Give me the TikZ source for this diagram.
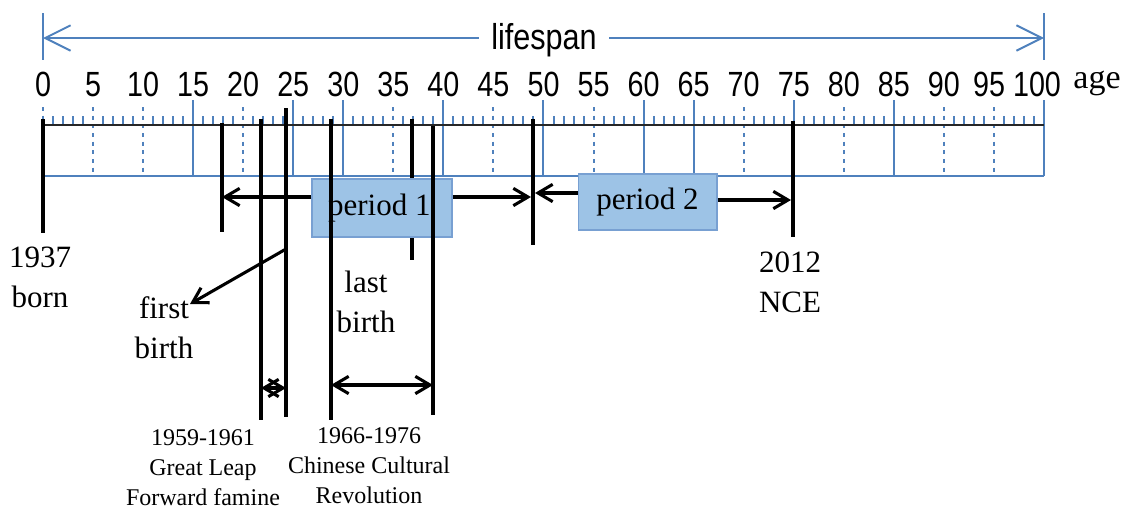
\documentclass[tikz,border=0pt]{standalone}
\usepackage{fontspec}
\setmainfont{Liberation Serif}
\setsansfont{Liberation Sans}
\usetikzlibrary{arrows.meta}
\definecolor{rulerblue}{RGB}{79,129,189}
\definecolor{boxfill}{RGB}{157,195,230}
\definecolor{boxline}{RGB}{120,160,210}
\newcommand{\sqz}[1]{\scalebox{0.82}[1]{#1}}
\begin{document}
\begin{tikzpicture}[x=0.75pt,y=-0.75pt,
  blueline/.style={draw=rulerblue, line width=1.5pt},
  dotline/.style={draw=rulerblue, line width=1.5pt, dash pattern=on 3pt off 3.5pt},
  minortick/.style={draw=rulerblue, line width=1.5pt},
  blk/.style={draw=black, line width=2.3pt},
  barb/.style={blk, -{Straight Barb[length=11pt,width=13pt]}},
  dbarb/.style={blk, {Straight Barb[length=11pt,width=13pt]}-{Straight Barb[length=11pt,width=13pt]}},
  spanarrow/.style={draw=rulerblue, line width=1.5pt, {Straight Barb[length=19pt,width=19pt]}-{Straight Barb[length=19pt,width=19pt]}},
  num/.style={font=\sffamily\fontsize{26.25}{30}\selectfont, anchor=base, inner sep=0pt},
  biglbl/.style={font=\fontsize{23.25}{29.5}\selectfont, anchor=base, align=center, inner sep=0pt},
  smalllbl/.style={font=\fontsize{18}{22.3}\selectfont, anchor=base, align=center, inner sep=0pt},
  pbox/.style={draw=boxline, fill=boxfill, line width=1pt, font=\fontsize{23.25}{28}\selectfont, inner sep=0pt}
]
\useasboundingbox (0,0) rectangle (1128,508);

% ---- lifespan arrow ----
\coordinate (lsA) at (43,38);
\coordinate (lsB) at (1044,38);
\coordinate (lsAt) at (43,13);
\coordinate (lsAb) at (43,60);
\coordinate (lsBt) at (1044,13);
\coordinate (lsBb) at (1044,60);
\draw[blueline] (lsAt) -- (lsAb);
\draw[blueline] (lsBt) -- (lsBb);
\draw[spanarrow] (lsA) -- (lsB);
\node[font=\sffamily\fontsize{27}{30}\selectfont, fill=white, inner xsep=9pt, inner ysep=2pt] (lifespan) at (544,40) {\scalebox{0.85}[1]{lifespan}};

% ---- numbers ----
\foreach \n in {0,5,...,90} {
  \node[num] (n\n) at ({43+10.01*\n},96) {\sqz{\n}};
}
\node[num] (n95) at (989,96) {\sqz{95}};
\node[num] (n100) at (1037,96) {\sqz{100}};
\node[font=\fontsize{25.5}{30}\selectfont, anchor=base, inner sep=0pt] (age) at (1097,88) {age};

% ---- ruler ----
\foreach \a in {0,5,...,95} {
  \foreach \b in {1,2,3,4} {
    \pgfmathsetmacro{\tx}{round(43+10.01*(\a+\b))}
    \draw[minortick] (\tx,116) -- (\tx,125);
  }
}
\foreach \m in {15,25,30,40,50,60,65,75,85,100} {
  \pgfmathsetmacro{\tx}{round(43+10.01*\m)}
  \draw[blueline] (\tx,100) -- (\tx,176);
}
\foreach \m in {0,5,10,20,35,45,55,70,80,90,95} {
  \pgfmathsetmacro{\tx}{round(43+10.01*\m)}
  \draw[dotline] (\tx,107) -- (\tx,176);
}
\draw[blueline] (43,176) -- (1044,176);
\draw[draw=black!85, line width=1.5pt] (43,125) -- (1044,125);

% ---- last birth line (behind box) ----
\coordinate (lb-t) at (412,119);
\coordinate (lb-b) at (412,260);
\draw[blk] (lb-t) -- (lb-b);

% ---- period boxes and arrows ----
\coordinate (p1L) at (222,197);
\coordinate (p1R) at (531,197);
\coordinate (p2L) at (535,193);
\coordinate (p2R) at (791,200);
\node[pbox, minimum width=105pt, minimum height=43.5pt] (p1) at (382,208) {period 1\hspace*{4pt}};
\node[pbox, minimum width=104pt, minimum height=42pt] (p2) at (647.5,202) {period 2};
\draw[barb] (p1.west |- p1L) -- (p1L);
\draw[barb] (p1.east |- p1R) -- (p1R);
\draw[barb] (p2.west |- p2L) -- (p2L);
\draw[barb] (p2.east |- p2R) -- (p2R);

% ---- vertical lines ----
\coordinate (born-t) at (43,119);   \coordinate (born-b) at (43,233);
\coordinate (s1-t) at (222,123);    \coordinate (s1-b) at (222,232);
\coordinate (fa-t) at (261,119);    \coordinate (fa-b) at (261,420);
\coordinate (fb-t) at (286,108);    \coordinate (fb-b) at (286,417);
\coordinate (cr-t) at (331,119);    \coordinate (cr-b) at (331,420);
\coordinate (ce-t) at (433,126);    \coordinate (ce-b) at (433,415);
\coordinate (e1-t) at (533,119);    \coordinate (e1-b) at (533,245);
\coordinate (nce-t) at (793,121);   \coordinate (nce-b) at (793,237);
\draw[blk] (born-t) -- (born-b);
\draw[blk] (s1-t) -- (s1-b);
\draw[blk] (fa-t) -- (fa-b);
\draw[blk] (fb-t) -- (fb-b);
\draw[blk] (cr-t) -- (cr-b);
\draw[blk] (ce-t) -- (ce-b);
\draw[blk] (e1-t) -- (e1-b);
\draw[blk] (nce-t) -- (nce-b);

% ---- event arrows ----
\coordinate (fa1) at (261,388);
\coordinate (fa2) at (286,388);
\draw[dbarb] (fa1) -- (fa2);
\coordinate (cr1) at (331,385);
\coordinate (cr2) at (433,385);
\draw[dbarb] (cr1) -- (cr2);
\coordinate (fb0) at (286,249);
\coordinate (fbT) at (190,304);
\draw[barb] (fb0) -- (fbT);

% ---- labels (base = baseline of last line) ----
\node[biglbl] (bornlbl) at (40,307) {1937\\born};
\node[biglbl] (ncelbl) at (790,312) {2012\\NCE};
\node[biglbl] (firstlbl) at (164,358) {first\\birth};
\node[biglbl] (lastlbl) at (366,332) {last\\birth};
\node[smalllbl] (faminelbl) at (203,505) {1959-1961\\Great Leap\\Forward famine};
\node[smalllbl] (crlbl) at (369,503) {1966-1976\\Chinese Cultural\\Revolution};
\end{tikzpicture}
\end{document}
